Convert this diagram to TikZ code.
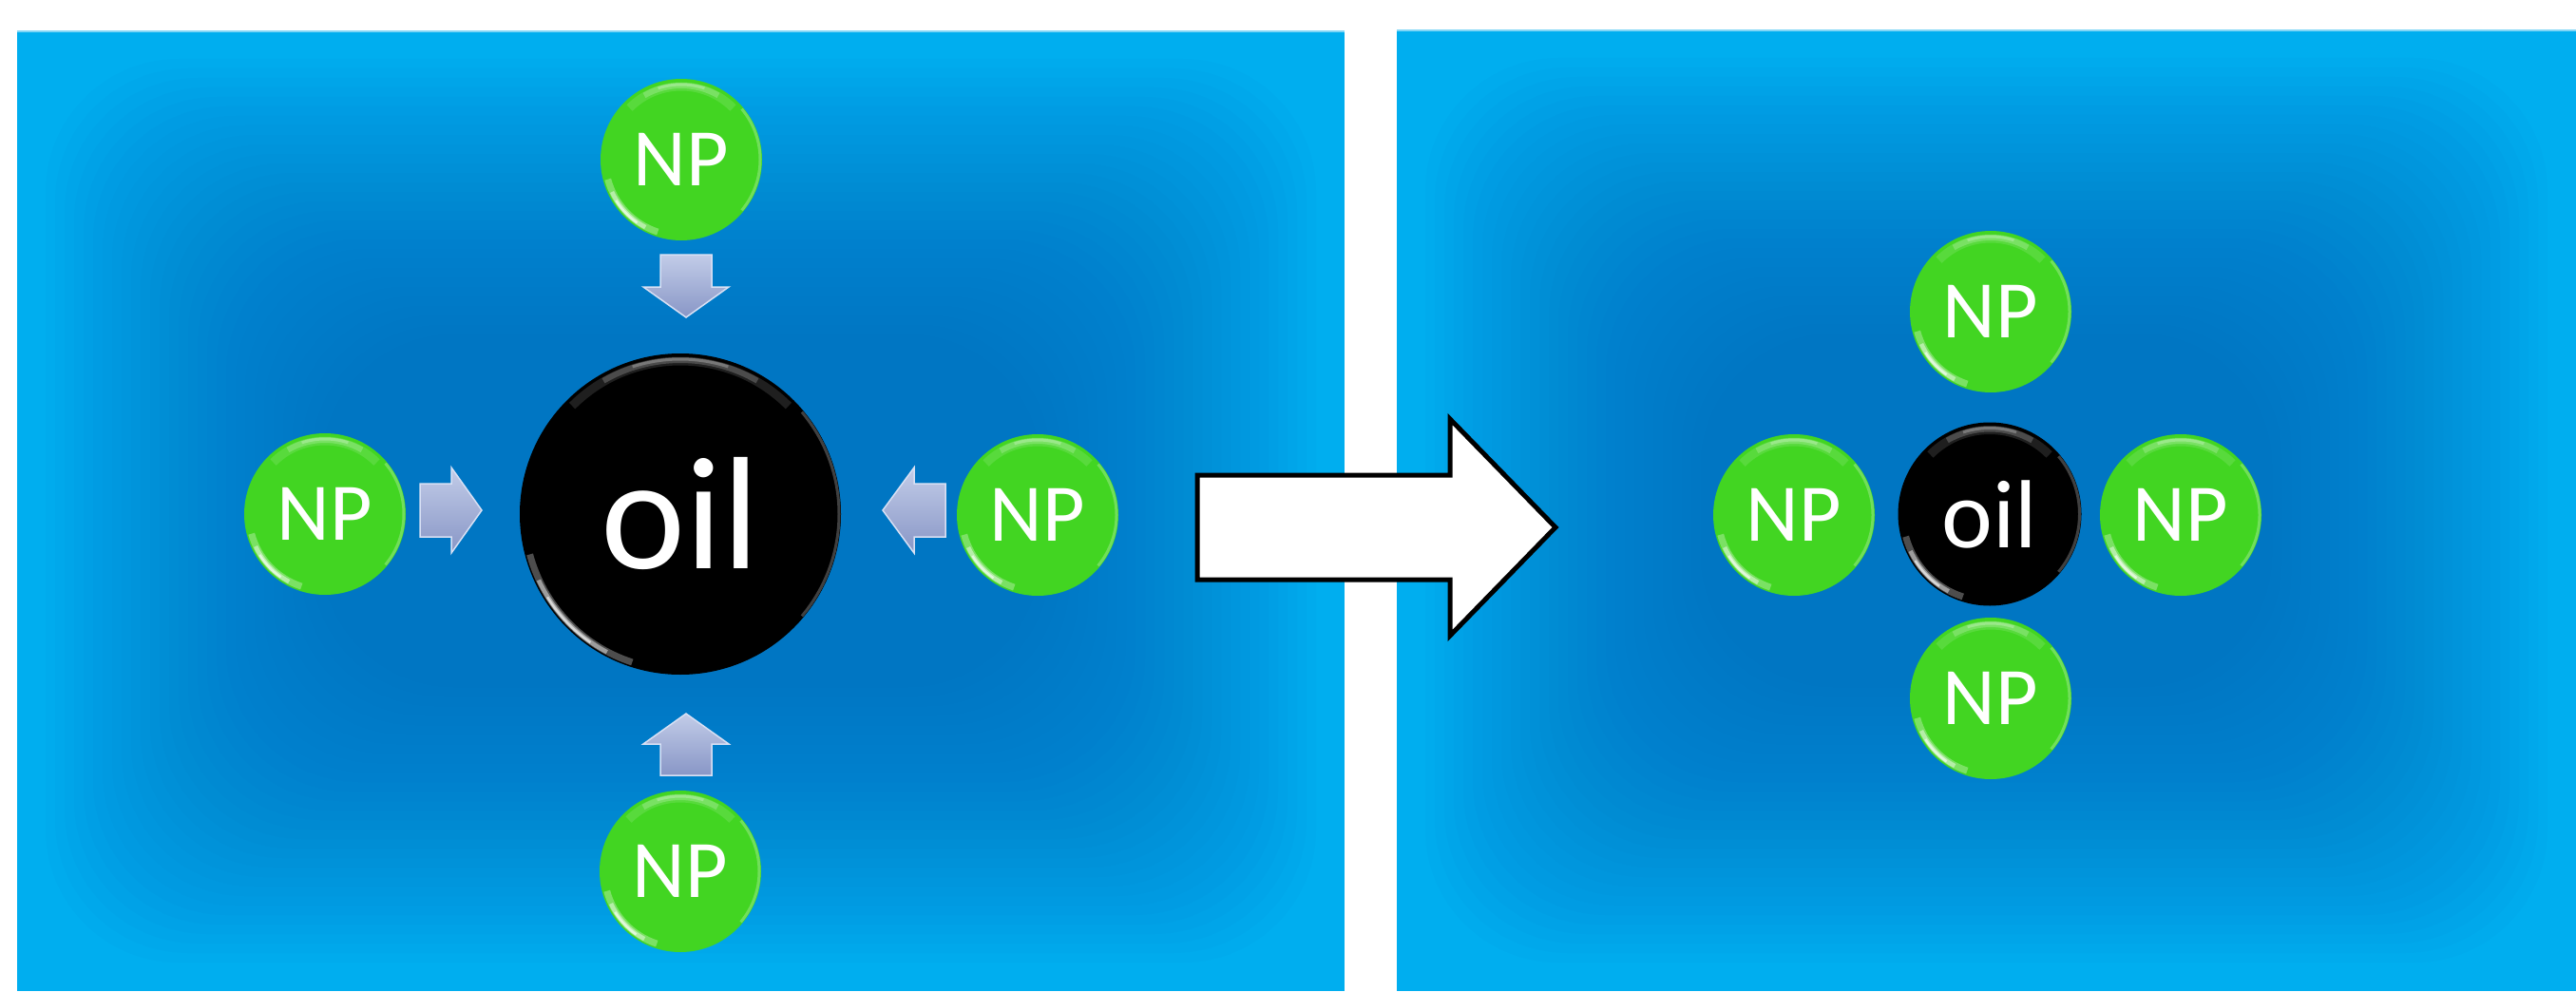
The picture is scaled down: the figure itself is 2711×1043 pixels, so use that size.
\documentclass[tikz,border=0pt]{standalone}
\usepackage{fontspec}
\setmainfont{Carlito}
\definecolor{npgreen}{RGB}{66,213,34}
\definecolor{paneledge}{RGB}{0,174,239}
\definecolor{panelcore}{RGB}{0,100,184}
\definecolor{paneltop}{RGB}{130,214,246}
\definecolor{arrowtop}{RGB}{194,204,232}
\definecolor{arrowbot}{RGB}{136,150,198}
\definecolor{arrowedge}{RGB}{216,224,244}
\newcommand\npfont{\fontsize{24.5}{28}\selectfont}
\newcommand\bigoilfont{\fontsize{48}{52}\selectfont}
\newcommand\smalloilfont{\fontsize{29}{32}\selectfont}
\newcommand\shine[1]{%
  \coordinate (pc) at (path picture bounding box.center);
  \draw[white, opacity=.12, line width=.9mm] ([shift={(45:#1mm-.8mm)}]pc) arc[start angle=45, end angle=135, radius=#1mm-.8mm];
  \draw[white, opacity=.20, line width=.6mm] ([shift={(60:#1mm-.7mm)}]pc) arc[start angle=60, end angle=120, radius=#1mm-.7mm];
  \draw[white, opacity=.25, line width=.3mm] ([shift={(72:#1mm-.6mm)}]pc) arc[start angle=72, end angle=108, radius=#1mm-.6mm];
  \draw[white, opacity=.30, line width=.7mm] ([shift={(195:#1mm-.5mm)}]pc) arc[start angle=195, end angle=252, radius=#1mm-.5mm];
  \draw[white, opacity=.45, line width=.45mm] ([shift={(205:#1mm-.45mm)}]pc) arc[start angle=205, end angle=242, radius=#1mm-.45mm];
  \draw[white, opacity=.60, line width=.25mm] ([shift={(212:#1mm-.4mm)}]pc) arc[start angle=212, end angle=235, radius=#1mm-.4mm];
  \draw[white, opacity=.25, line width=.3mm] ([shift={(-40:#1mm-.2mm)}]pc) arc[start angle=-40, end angle=40, radius=#1mm-.2mm];
}
\tikzset{
  npball/.style={circle, fill=npgreen, minimum size=17mm, inner sep=0pt,
    text=white, font=\npfont, path picture={\shine{8.5}}},
  oilbig/.style={circle, fill=black, minimum size=33.8mm, inner sep=0pt,
    text=white, font=\bigoilfont, path picture={\shine{16.9}}},
  oilsmall/.style={circle, fill=black, minimum size=19.3mm, inner sep=0pt,
    text=white, font=\smalloilfont, path picture={\shine{9.65}}},
  smallarrow/.style={top color=arrowtop, bottom color=arrowbot,
    draw=arrowedge, line width=.15mm, line join=miter},
  bigarrow/.style={fill=white, draw=black, line width=.5mm, line join=miter},
  panelbase/.style={fill=paneledge},
  panelglow/.style={fill=panelcore, opacity=.036, rounded corners=14mm}
}
\begin{document}
\begin{tikzpicture}[x=0.1mm,y=0.1mm]
\useasboundingbox (0,0) rectangle (2711,1043);
\fill[white] (0,0) rectangle (2711,1043);

% left panel
\fill[panelbase] (18,0) rectangle (1415,1011);
\foreach \i in {0,...,29} {
  \fill[panelglow] ({48+10*\i},{30+10*\i}) rectangle ({1385-10*\i},{981-10*\i});
}
\draw[paneltop, line width=.15mm] (18,1010) -- (1415,1010);

% right panel
\fill[panelbase] (1470,0) rectangle (2711,1012);
\foreach \i in {0,...,29} {
  \fill[panelglow] ({1500+10*\i},{30+10*\i}) rectangle ({2681-10*\i},{982-10*\i});
}
\draw[paneltop, line width=.15mm] (1470,1011) -- (2711,1011);

% left panel: particles and oil
\node[oilbig] (oilA) at (716,502) {oil};
\node[npball] (npAt) at (717,875) {NP};
\node[npball] (npAl) at (342,502) {NP};
\node[npball] (npAr) at (1092,501) {NP};
\node[npball] (npAb) at (716,126) {NP};

% small arrows towards the oil
\path[smallarrow] (442,534) -- (475,534) -- (475,551) -- (507,506) -- (475,461) -- (475,478) -- (442,478) -- cycle;
\path[smallarrow] (995,534) -- (962,534) -- (962,551) -- (929,506) -- (962,461) -- (962,478) -- (995,478) -- cycle;
\path[smallarrow] (695,775) -- (749,775) -- (749,741) -- (767,741) -- (722,709) -- (677,741) -- (695,741) -- cycle;
\path[smallarrow] (695,227) -- (749,227) -- (749,260) -- (767,260) -- (722,292) -- (677,260) -- (695,260) -- cycle;

% big arrow between panels
\draw[bigarrow] (1260,543) -- (1526,543) -- (1526,602) -- (1637,488) -- (1526,374) -- (1526,433) -- (1260,433) -- cycle;

% right panel: stabilised droplet
\node[oilsmall] (oilB) at (2094,502) {oil};
\node[npball] (npBt) at (2095,715) {NP};
\node[npball] (npBl) at (1888,501) {NP};
\node[npball] (npBr) at (2295,501) {NP};
\node[npball] (npBb) at (2095,308) {NP};
\end{tikzpicture}
\end{document}
